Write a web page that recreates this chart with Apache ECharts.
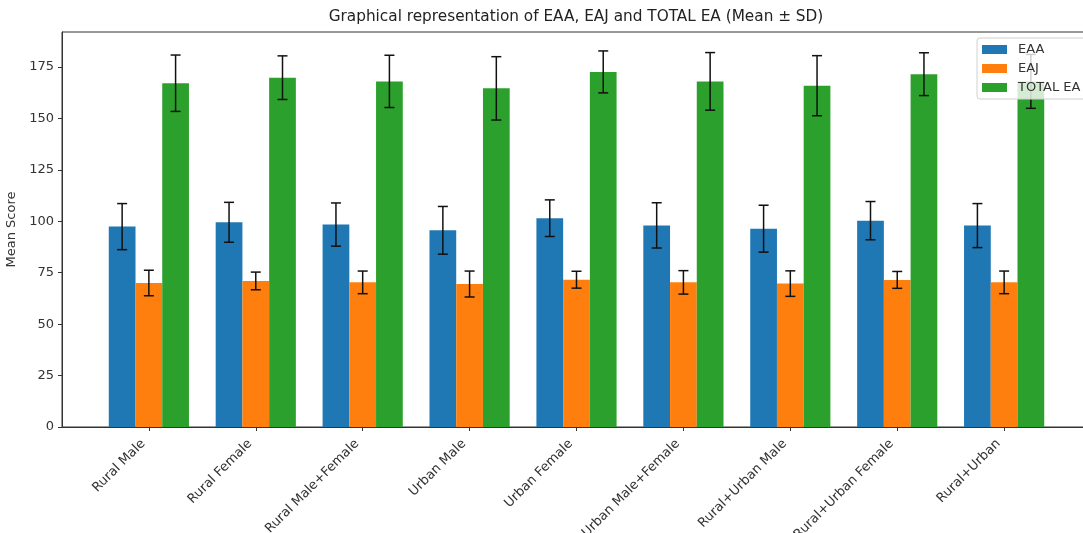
<!DOCTYPE html>
<html>
<head>
<meta charset="utf-8">
<title>EAA, EAJ and TOTAL EA</title>
<script src="https://cdn.jsdelivr.net/npm/echarts@6/dist/echarts.min.js"></script>
<style>
    html, body { margin: 0; padding: 0; background: #fff; }
    #echarts { width: 1083px; height: 533px; }
</style>
</head>
<body>
<div id="echarts"></div>
<script>
    var categories = ["Rural Male", "Rural Female", "Rural Male+Female", "Urban Male", "Urban Female",
        "Urban Male+Female", "Rural+Urban Male", "Rural+Urban Female", "Rural+Urban"];
    var seriesNames = ["EAA", "EAJ", "TOTAL EA"];

    // mean values
    var eaaMean = [97.4, 99.5, 98.4, 95.6, 101.5, 98.0, 96.4, 100.3, 97.9];
    var eajMean = [70.0, 71.0, 70.3, 69.5, 71.6, 70.3, 69.7, 71.5, 70.3];
    var totalMean = [167.1, 169.8, 168.0, 164.6, 172.6, 168.0, 165.9, 171.5, 168.0];

    // standard deviations
    var eaaSd = [11.2, 9.7, 10.5, 11.6, 8.9, 11.0, 11.4, 9.3, 10.7];
    var eajSd = [6.2, 4.3, 5.5, 6.3, 4.1, 5.7, 6.2, 4.1, 5.5];
    var totalSd = [13.7, 10.6, 12.7, 15.4, 10.2, 14.0, 14.6, 10.4, 13.1];

    var colors = ['#1f77b4', '#ff7f0e', '#2ca02c'];
    var offsets = [-0.25, 0, 0.25];
    var fontFamily = 'DejaVu Sans';

    var myChart = echarts.init(document.getElementById('echarts'));

    function barData(means) {
        return means.map(function (v, i) { return [i, v]; });
    }
    function errData(means, sds) {
        return means.map(function (v, i) { return [i, v, sds[i]]; });
    }

    /*error bar with caps*/
    function errorBar(off) {
        return function (params, api) {
            var x = api.value(0) + off, m = api.value(1), s = api.value(2);
            var top = api.coord([x, m + s]);
            var bot = api.coord([x, m - s]);
            var cap = 5;
            var style = { stroke: '#111', lineWidth: 1.5 };
            return {
                type: 'group',
                children: [
                    { type: 'line', shape: { x1: top[0], y1: top[1], x2: bot[0], y2: bot[1] }, style: style },
                    { type: 'line', shape: { x1: top[0] - cap, y1: top[1], x2: top[0] + cap, y2: top[1] }, style: style },
                    { type: 'line', shape: { x1: bot[0] - cap, y1: bot[1], x2: bot[0] + cap, y2: bot[1] }, style: style }
                ]
            };
        };
    }

    var means = [eaaMean, eajMean, totalMean];
    var sds = [eaaSd, eajSd, totalSd];
    var series = [];
    seriesNames.forEach(function (name, k) {
        series.push({
            name: name,
            type: 'bar',
            barWidth: '25%',
            barGap: '0%',
            itemStyle: { color: colors[k] },
            data: barData(means[k])
        });
    });
    seriesNames.forEach(function (name, k) {
        series.push({
            type: 'custom',
            renderItem: errorBar(offsets[k]),
            encode: { x: 0, y: 1 },
            z: 3,
            silent: true,
            data: errData(means[k], sds[k])
        });
    });

    var option = {
        animation: false,
        textStyle: { fontFamily: fontFamily },
        title: {
            text: 'Graphical representation of EAA, EAJ and TOTAL EA (Mean \u00b1 SD)',
            left: 576,
            top: 10,
            padding: 0,
            textAlign: 'center',
            textStyle: { fontSize: 15.3, fontWeight: 'normal', color: '#222', fontFamily: fontFamily }
        },
        legend: {
            data: seriesNames,
            orient: 'vertical',
            left: 977,
            top: 38,
            padding: [4, 8, 4, 5],
            itemWidth: 25,
            itemHeight: 9,
            itemGap: 4,
            icon: 'rect',
            backgroundColor: 'rgba(255,255,255,0.8)',
            borderColor: '#d0d0d0',
            borderWidth: 1,
            borderRadius: 3,
            textStyle: { fontSize: 13, lineHeight: 15, color: '#333', fontFamily: fontFamily, padding: [0, 0, 0, 6] }
        },
        color: colors,
        grid: {
            left: 62,
            top: 32,
            width: 1029,
            height: 395,
            outerBoundsMode: 'none',
            containLabel: false,
            show: true,
            borderColor: '#333',
            borderWidth: 1
        },
        xAxis: {
            type: 'value',
            min: -0.8125,
            max: 8.8125,
            minInterval: 1,
            maxInterval: 1,
            splitLine: { show: false },
            axisLine: { show: true, onZero: false, lineStyle: { color: '#333' } },
            axisTick: { show: true, length: 4, lineStyle: { color: '#333' } },
            axisLabel: {
                rotate: 45,
                fontSize: 13,
                color: '#333',
                margin: 9,
                padding: [0, 8, 0, 0],
                showMinLabel: false,
                showMaxLabel: false,
                formatter: function (v) {
                    return Number.isInteger(v) && categories[v] ? categories[v] : '';
                }
            }
        },
        yAxis: {
            type: 'value',
            min: 0,
            max: 192,
            interval: 25,
            name: 'Mean Score',
            nameLocation: 'middle',
            nameGap: 37,
            nameTextStyle: { fontSize: 13, color: '#333' },
            splitLine: { show: false },
            axisLine: { show: true, onZero: false, lineStyle: { color: '#333' } },
            axisTick: { show: true, length: 4, lineStyle: { color: '#333' } },
            axisLabel: { fontSize: 13, color: '#333', showMaxLabel: false }
        },
        series: series
    };

    myChart.setOption(option);
</script>
</body>
</html>
